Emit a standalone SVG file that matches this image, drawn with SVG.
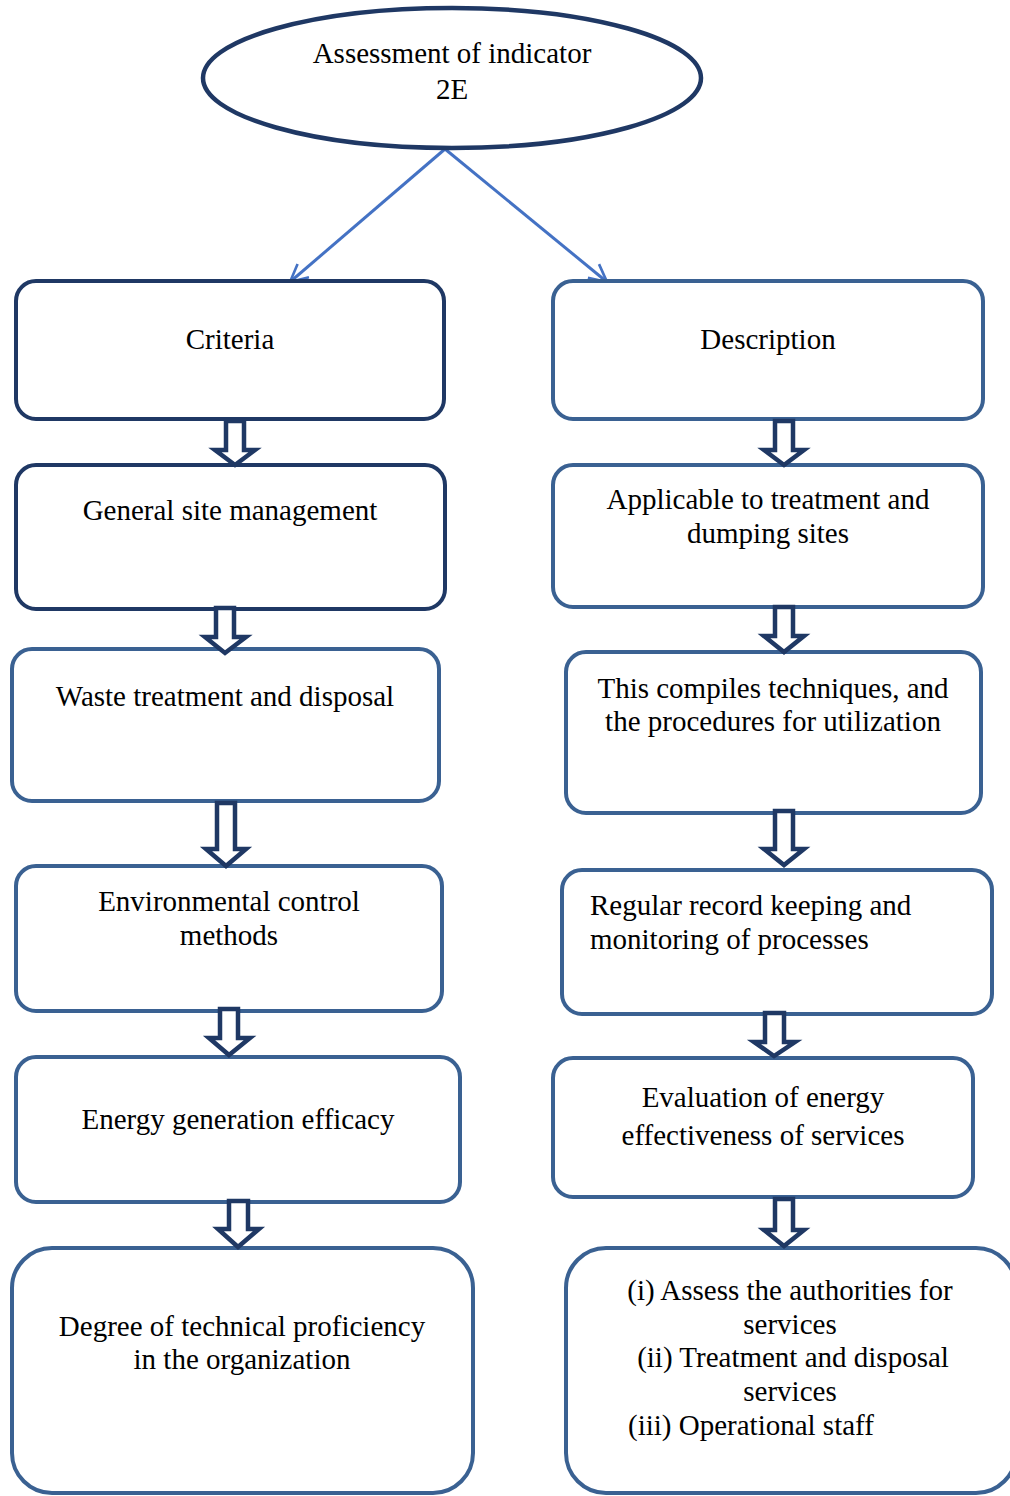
<svg xmlns="http://www.w3.org/2000/svg" width="1010" height="1496" viewBox="0 0 1010 1496">
  <style>
    .lbl { font-family: "Liberation Serif", "Times New Roman", serif; font-size: 29px; fill: #000; }
    .mid { text-anchor: middle; }
    .box-dark { fill: #fff; stroke: #1f3864; stroke-width: 4; }
    .box { fill: #fff; stroke: #3a6192; stroke-width: 4; }
    .flow { fill: #fff; stroke: #1f3864; stroke-width: 4.5; stroke-linejoin: miter; }
    .link { stroke: #4472c4; stroke-width: 3; fill: none; }
  </style>
  <defs>
    <marker id="vhead" viewBox="0 0 12 12" refX="11" refY="6" markerWidth="7" markerHeight="7" orient="auto" markerUnits="strokeWidth">
      <path d="M1,1 L11,6 L1,11" fill="none" stroke="#4472c4" stroke-width="1.5"/>
    </marker>
  </defs>

  <rect width="1010" height="1496" fill="#fff"/>

  <!-- connectors: root links and hollow block arrows -->
  <g id="connectors">
    <line class="link" x1="445" y1="149" x2="290" y2="282" marker-end="url(#vhead)"/>
    <line class="link" x1="445" y1="149" x2="607" y2="282" marker-end="url(#vhead)"/>
  </g>

  <!-- root -->
  <g id="root">
    <ellipse cx="452" cy="78" rx="249" ry="70" fill="#fff" stroke="#1f3864" stroke-width="4.5"/>
    <text class="lbl mid" x="452" y="63">Assessment of indicator</text>
    <text class="lbl mid" x="452" y="99">2E</text>
  </g>

  <!-- left column -->
  <g id="criteria">
    <rect class="box-dark" x="16" y="281" width="428" height="138" rx="20"/>
    <text class="lbl mid" x="230" y="349">Criteria</text>
  </g>
  <g id="general-site">
    <rect class="box-dark" x="16" y="465" width="429" height="144" rx="20"/>
    <text class="lbl mid" x="230" y="520">General site management</text>
  </g>
  <g id="waste-treatment">
    <rect class="box" x="12" y="649" width="427" height="152" rx="20"/>
    <text class="lbl mid" x="225" y="706">Waste treatment and disposal</text>
  </g>
  <g id="environmental">
    <rect class="box" x="16" y="866" width="426" height="145" rx="20"/>
    <text class="lbl mid" x="229" y="911">Environmental control</text>
    <text class="lbl mid" x="229" y="945">methods</text>
  </g>
  <g id="energy-generation">
    <rect class="box" x="16" y="1057" width="444" height="145" rx="20"/>
    <text class="lbl mid" x="238" y="1129">Energy generation efficacy</text>
  </g>
  <g id="technical-proficiency">
    <rect class="box" x="12" y="1248" width="461" height="245" rx="40"/>
    <text class="lbl mid" x="242" y="1336">Degree of technical proficiency</text>
    <text class="lbl mid" x="242" y="1369">in the organization</text>
  </g>

  <!-- right column -->
  <g id="description">
    <rect class="box" x="553" y="281" width="430" height="138" rx="20"/>
    <text class="lbl mid" x="768" y="349">Description</text>
  </g>
  <g id="applicable">
    <rect class="box" x="553" y="465" width="430" height="142" rx="20"/>
    <text class="lbl mid" x="768" y="509">Applicable to treatment and</text>
    <text class="lbl mid" x="768" y="543">dumping sites</text>
  </g>
  <g id="compiles">
    <rect class="box" x="566" y="652" width="415" height="161" rx="20"/>
    <text class="lbl mid" x="773" y="698">This compiles techniques, and</text>
    <text class="lbl mid" x="773" y="731">the procedures for utilization</text>
  </g>
  <g id="record-keeping">
    <rect class="box" x="562" y="870" width="430" height="144" rx="20"/>
    <text class="lbl" x="590" y="915">Regular record keeping and</text>
    <text class="lbl" x="590" y="949">monitoring of processes</text>
  </g>
  <g id="energy-evaluation">
    <rect class="box" x="553" y="1058" width="420" height="139" rx="20"/>
    <text class="lbl mid" x="763" y="1107">Evaluation of energy</text>
    <text class="lbl mid" x="763" y="1145">effectiveness of services</text>
  </g>
  <g id="assessments">
    <rect class="box" x="566" y="1248" width="450" height="245" rx="40"/>
    <text class="lbl mid" x="790" y="1300">(i) Assess the authorities for</text>
    <text class="lbl mid" x="790" y="1334">services</text>
    <text class="lbl mid" x="793" y="1367">(ii) Treatment and disposal</text>
    <text class="lbl mid" x="790" y="1401">services</text>
    <text class="lbl" x="628" y="1435">(iii) Operational staff</text>
  </g>

  <!-- hollow downward block arrows between stacked boxes -->
  <g id="block-arrows">
    <path class="flow" d="M226,421 L244,421 L244,450 L255,450 L235,465 L215,450 L226,450 Z"/>
    <path class="flow" d="M216,608 L234,608 L234,637 L246,637 L225,653 L205,637 L216,637 Z"/>
    <path class="flow" d="M217,803 L235,803 L235,849 L246,849 L226,866 L206,849 L217,849 Z"/>
    <path class="flow" d="M220,1009 L238,1009 L238,1038 L250,1038 L229,1055 L209,1038 L220,1038 Z"/>
    <path class="flow" d="M229,1201 L248,1201 L248,1229 L259,1229 L238,1247 L218,1229 L229,1229 Z"/>
    <path class="flow" d="M775,421 L793,421 L793,450 L804,450 L784,465 L764,450 L775,450 Z"/>
    <path class="flow" d="M775,607 L793,607 L793,636 L804,636 L784,652 L764,636 L775,636 Z"/>
    <path class="flow" d="M775,811 L793,811 L793,849 L804,849 L784,865 L764,849 L775,849 Z"/>
    <path class="flow" d="M765,1013 L784,1013 L784,1042 L795,1042 L774,1056 L754,1042 L765,1042 Z"/>
    <path class="flow" d="M775,1199 L793,1199 L793,1230 L804,1230 L784,1246 L764,1230 L775,1230 Z"/>
  </g>
</svg>
